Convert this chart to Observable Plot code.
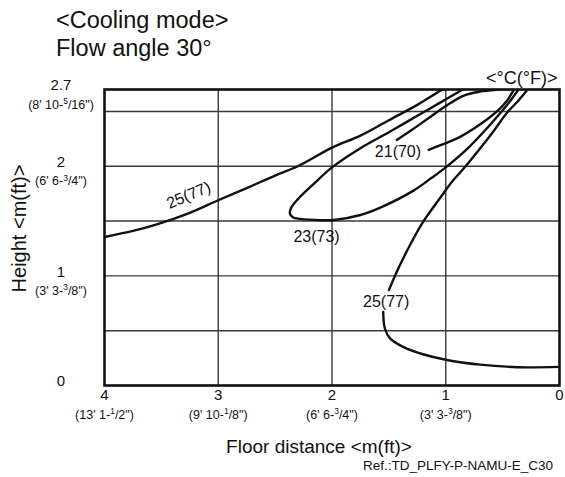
<!DOCTYPE html>
<html><head><meta charset="utf-8">
<script src="https://cdn.jsdelivr.net/npm/d3@7"></script>
<script src="https://cdn.jsdelivr.net/npm/@observablehq/plot@0.6"></script>
<style>
body{margin:0;background:#fff;font-family:"Liberation Sans",Arial,sans-serif;color:#111;}
#wrap{width:565px;height:477px;position:relative;overflow:hidden;}
#title{position:relative;height:60px;}
.t{position:absolute;left:56px;font-size:23.5px;line-height:1;white-space:nowrap;}
#cap{position:relative;height:47px;}
.xl{position:absolute;left:319px;top:6.6px;transform:translateX(-50%);font-size:19px;line-height:1;white-space:nowrap;}
.ref{position:absolute;right:12px;top:29.3px;font-size:13.5px;line-height:1;white-space:nowrap;}
</style></head><body>
<div id="wrap">
  <div id="title">
    <div class="t" style="top:9.4px">&lt;Cooling mode&gt;</div>
    <div class="t" style="top:36.8px">Flow angle 30°</div>
  </div>
  <div id="chart"></div>
  <div id="cap">
    <div class="xl">Floor distance &lt;m(ft)&gt;</div>
    <div class="ref">Ref.:TD_PLFY-P-NAMU-E_C30</div>
  </div>
</div>
<script>
// ---- data ----
const xTickValues = [4, 3, 2, 1, 0];
const xTickLabels = ["4", "3", "2", "1", "0"];
const xTickFeet = ["(13' 1-^1/2\")", "(9' 10-^1/8\")", "(6' 6-^3/4\")", "(3' 3-^3/8\")", ""];
const yTickValues = [2.7, 2, 1, 0];
const yTickLabels = ["2.7", "2", "1", "0"];
const yTickFeet = ["(8' 10-^5/16\")", "(6' 6-^3/4\")", "(3' 3-^3/8\")", ""];
const xGrid = [1, 2, 3];
const yGrid = [0.5, 1, 1.5, 2, 2.5];

const contour25Upper = [[4.0,1.355],[3.75,1.41],[3.54,1.47],[3.25,1.575],[3.0,1.69],[2.75,1.80],[2.5,1.915],[2.3,2.0],[2.0,2.17],[1.75,2.28],[1.5,2.42],[1.25,2.56],[1.03,2.70],[0.98,2.73]];
const contour25LowerA = [[0.22,2.78],[0.28,2.70],[0.36,2.60],[0.46,2.49],[0.58,2.32],[0.7,2.16],[0.85,1.97],[0.94,1.865],[1.05,1.71],[1.21,1.475],[1.33,1.25],[1.42,1.06],[1.50,0.87]];
const contour25LowerB = [[1.55,0.67],[1.535,0.52],[1.49,0.43],[1.37,0.35],[1.2,0.285],[1.0,0.235],[0.7,0.19],[0.37,0.167],[0.0,0.17]];
const contour23 = [[0.80,2.73],[0.85,2.70],[1.0,2.61],[1.25,2.46],[1.5,2.31],[1.75,2.165],[2.0,1.99],[2.16,1.84],[2.30,1.70],[2.36,1.62],[2.37,1.57],[2.345,1.535],[2.28,1.52],[2.1,1.508],[1.98,1.51],[1.75,1.555],[1.57,1.625],[1.28,1.78],[1.13,1.89],[1.0,1.99],[0.8,2.17],[0.6,2.39],[0.46,2.56],[0.36,2.70],[0.32,2.76]];
const contour21Upper = [[1.43,2.24],[1.3,2.33],[1.15,2.44],[1.0,2.55],[0.84,2.645],[0.7,2.68],[0.56,2.697],[0.45,2.703]];
const contour21Lower = [[1.15,2.15],[1.0,2.21],[0.87,2.27],[0.7,2.38],[0.55,2.50],[0.46,2.60],[0.40,2.70],[0.37,2.75]];

const labelText = ["25(77)", "23(73)", "21(70)", "25(77)"];
const labelX = [3.26, 2.136, 1.42, 1.524];
const labelY = [1.735, 1.353, 2.135, 0.76];
const labelAngle = [-23, 0, 0, 0];

// ---- build tables ----
const contours = {c25u: contour25Upper, c25a: contour25LowerA, c25b: contour25LowerB, c23: contour23, c21u: contour21Upper, c21l: contour21Lower};
const lineRows = Object.entries(contours).flatMap(([k, pts]) => pts.map(([x, y]) => ({x, y, z: k})));
const labelRows = labelText.map((t, i) => ({text: t, x: labelX[i], y: labelY[i], a: labelAngle[i]}));

const plot = Plot.plot({
  width: 565,
  height: 370,
  marginLeft: 104,
  marginRight: 6,
  marginTop: 29,
  marginBottom: 45,
  x: {domain: [4, 0], axis: null},
  y: {domain: [0, 2.7], axis: null},
  style: {fontFamily: "'Liberation Sans', Arial, sans-serif", fontSize: "15px", color: "#111", background: "white", overflow: "visible"},
  marks: [
    Plot.ruleX(xGrid, {stroke: "#3a3a3a", strokeWidth: 1.4}),
    Plot.ruleY(yGrid, {stroke: "#3a3a3a", strokeWidth: 1.4}),
    Plot.line(lineRows, {x: "x", y: "y", z: "z", stroke: "#111", strokeWidth: 2.4, curve: "catmull-rom", clip: true}),
    Plot.frame({stroke: "#111", strokeWidth: 2.6}),
    Plot.text(labelRows, {x: "x", y: "y", text: "text", rotate: "a", fontSize: 16, fill: "#111"}),
    Plot.text(yTickValues, {y: d => d, frameAnchor: "left", dx: -43.5, dy: -4, text: (d, i) => yTickLabels[i], textAnchor: "middle", fontSize: 15, fill: "#111"}),
    Plot.text(yTickValues, {y: d => d, frameAnchor: "left", dx: -43.5, dy: 15, text: (d, i) => yTickFeet[i], textAnchor: "middle", fontSize: 12.5, fill: "#111", ariaDescription: "ft"}),
    Plot.text(xTickValues, {x: d => d, frameAnchor: "bottom", dy: 14, text: (d, i) => xTickLabels[i], fontSize: 15, fill: "#111"}),
    Plot.text(xTickValues, {x: d => d, frameAnchor: "bottom", dy: 33, text: (d, i) => xTickFeet[i], fontSize: 12.5, fill: "#111", ariaDescription: "ft"}),
    Plot.text(["<°C(°F)>"], {frameAnchor: "top-right", dx: -2, dy: -18, text: d => d, textAnchor: "end", fontSize: 18, fill: "#111"}),
    Plot.text(["Height <m(ft)>"], {frameAnchor: "left", dx: -85, dy: -9, rotate: -90, text: d => d, textAnchor: "middle", fontSize: 20, fill: "#111"})
  ]
});
document.getElementById("chart").appendChild(plot);

// superscript numerators in feet labels
plot.querySelectorAll('g[aria-description="ft"] text').forEach(el => {
  const s = el.textContent;
  if (!s.includes("^")) return;
  const parts = s.split(/\^(\d+)/);
  el.textContent = "";
  const ns = "http://www.w3.org/2000/svg";
  parts.forEach((p, i) => {
    if (!p) return;
    const ts = document.createElementNS(ns, "tspan");
    ts.textContent = p;
    if (i % 2 === 1) {
      ts.setAttribute("font-size", "8.5");
      ts.setAttribute("dy", "-4.5");
    } else if (i > 0) {
      ts.setAttribute("dy", "4.5");
    }
    el.appendChild(ts);
  });
});
</script>
</body></html>
